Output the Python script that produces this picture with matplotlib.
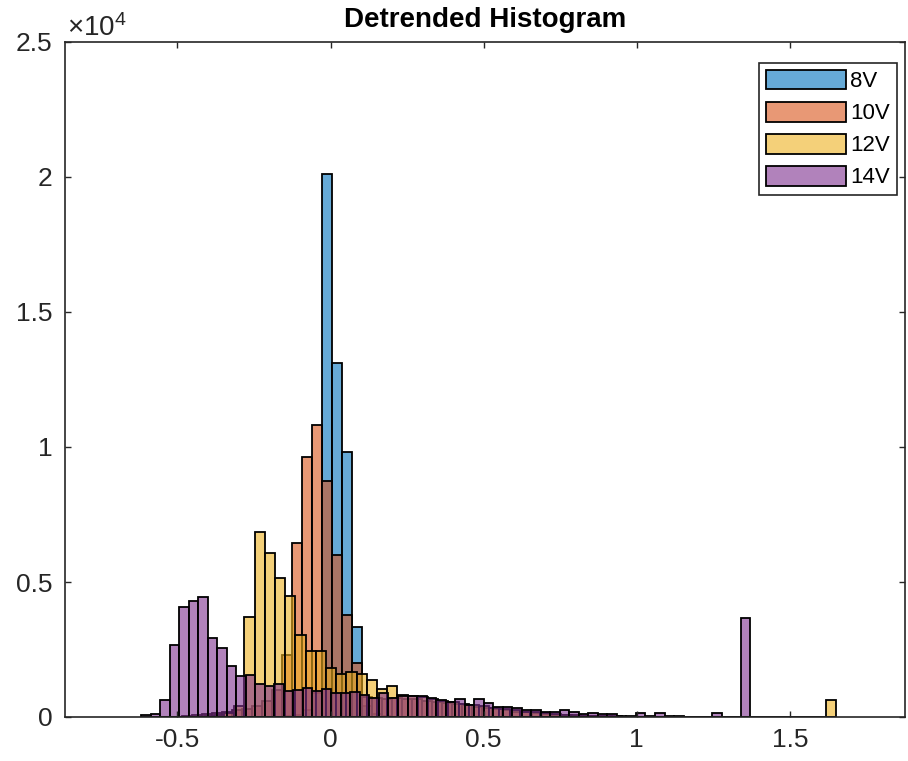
import numpy as np
import matplotlib
matplotlib.use("Agg")
import matplotlib.pyplot as plt

plt.rcParams['font.family'] = ['Liberation Sans', 'DejaVu Sans']
plt.rcParams['axes.unicode_minus'] = False
plt.rcParams['mathtext.fontset'] = 'custom'
plt.rcParams['mathtext.rm'] = 'Liberation Sans'

# ---- data (bin left edge, bin width, counts) ----
labels = ['8V', '10V', '12V', '14V']

v8_start, v8_width = -0.1592, 0.0327
v8_counts = [20, 60, 250, 900, 20100, 13100, 9800, 3330, 400, 100, 30]

v10_start, v10_width = -0.5843, 0.0327
v10_counts = [5, 10, 15, 30, 60, 100, 150, 200, 250, 300, 400, 600, 1000, 2300,
              6430, 9640, 10820, 8750, 6000, 3780, 2010, 750, 700, 650, 700, 650,
              650, 600, 550, 520, 480, 450, 380, 330, 290, 250, 200, 170, 140, 110,
              90, 70, 50, 40, 30, 20, 15, 10, 5]

v12_start, v12_width = -0.4142, 0.0333
v12_counts = [30, 80, 150, 400, 3715, 6840, 6060, 5160, 4490, 3040, 2460, 2460,
              1800, 1590, 1680, 1590, 1370, 1050, 1160, 800, 780, 750, 650, 600,
              550, 500, 450, 400, 350, 300, 250, 200, 170, 140, 110, 90, 70, 55,
              40, 30, 20, 15, 10, 5,
              0, 0, 0, 0, 0, 0, 0, 0, 0, 0, 0, 0, 0, 0, 0, 0, 0, 630]

v14_start, v14_width = -0.6187, 0.03108
v14_counts = [70, 120, 630, 2670, 4085, 4300, 4430, 2910, 2540, 1900,
              1520, 1550, 1220, 1150, 1220, 970, 1000, 1070, 960, 1030,
              900, 900, 940, 815, 690, 900, 700, 780, 780, 760,
              690, 630, 570, 650, 445, 650, 505, 380, 380, 320,
              260, 260, 200, 200, 260, 200, 100, 135, 110, 110,
              50, 50, 160, 40, 160, 20, 20, 15, 10, 10,
              160, 5, 5, 3670]

x_ticks = [-0.5, 0, 0.5, 1, 1.5]
x_tick_labels = ['-0.5', '0', '0.5', '1', '1.5']
y_ticks = [0, 5000, 10000, 15000, 20000, 25000]
y_tick_labels = ['0', '0.5', '1', '1.5', '2', '2.5']

colors = [(0.0, 0.447, 0.741), (0.850, 0.325, 0.098),
          (0.929, 0.694, 0.125), (0.494, 0.184, 0.556)]

series = [(v8_start, v8_width, v8_counts), (v10_start, v10_width, v10_counts),
          (v12_start, v12_width, v12_counts), (v14_start, v14_width, v14_counts)]

fig = plt.figure(figsize=(9.08, 7.61), dpi=100)
ax = fig.add_axes([65/908, 1 - 717/761, 840/908, 675/761])

for (start, w, counts), col, lab in zip(series, colors, labels):
    counts = np.asarray(counts, dtype=float)
    lefts = start + w * np.arange(len(counts))
    ax.bar(lefts, counts, width=w, align='edge', facecolor=(*col, 0.6),
           edgecolor='black', linewidth=1.3, label=lab)

ax.set_xlim(-0.867, 1.876)
ax.set_ylim(0, 25000)
ax.set_xticks(x_ticks)
ax.set_xticklabels(x_tick_labels)
ax.set_yticks(y_ticks)
ax.set_yticklabels(y_tick_labels)

tc = (0.15, 0.15, 0.15)
ax.tick_params(direction='in', top=True, right=True, length=4.5, width=1,
               colors=tc, labelsize=19, pad=9)
ax.tick_params(axis='x', pad=8)
for s in ax.spines.values():
    s.set_color(tc)
    s.set_linewidth(1.2)

ax.set_title('Detrended Histogram', fontsize=20, fontweight='bold', pad=11)
ax.text(0.002, 1.009, r'$\mathregular{\times10^{4}}$', transform=ax.transAxes,
        ha='left', va='baseline', fontsize=20, color=tc)

leg = ax.legend(loc='upper right', bbox_to_anchor=(0.990, 0.969), borderaxespad=0,
                fontsize=16, handlelength=3.6, handleheight=1.0, labelspacing=0.43,
                handletextpad=0.2, borderpad=0.3, fancybox=False, framealpha=1)
leg.get_frame().set_edgecolor(tc)
leg.get_frame().set_linewidth(1.2)

fig.savefig('out.png', dpi=100)
